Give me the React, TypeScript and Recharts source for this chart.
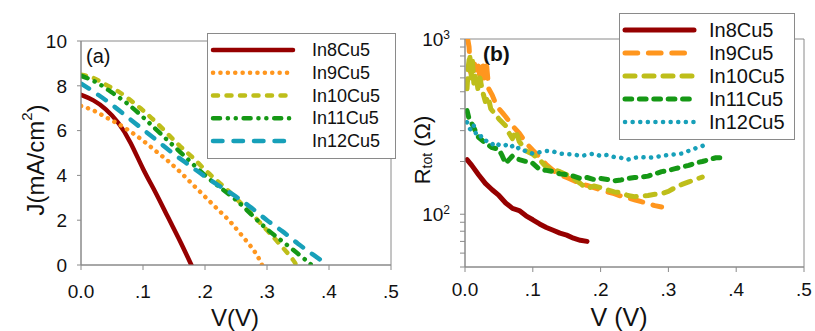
import React from 'react';
import { LineChart, Line, XAxis, YAxis, ReferenceArea } from 'recharts';

const FONT = '"Liberation Sans", Arial, Helvetica, sans-serif';

const seriesNames = ['In8Cu5', 'In9Cu5', 'In10Cu5', 'In11Cu5', 'In12Cu5'];
const seriesColors = ['#960000', '#FF961E', '#BEBE1A', '#159815', '#17A0B9'];

// ---- Panel (a): J-V curves ----
const vA8 = [0, 0.02, 0.04, 0.06, 0.08, 0.1, 0.12, 0.14, 0.16, 0.178];
const jA8 = [7.6, 7.35, 6.95, 6.35, 5.45, 4.3, 3.25, 2.15, 1.05, 0];

const vA9 = [0, 0.02, 0.04, 0.06, 0.08, 0.1, 0.12, 0.14, 0.16, 0.18, 0.2, 0.22, 0.24, 0.26, 0.28, 0.292];
const jA9 = [7.1, 6.9, 6.6, 6.3, 5.95, 5.55, 5.1, 4.65, 4.15, 3.6, 3.05, 2.5, 1.95, 1.3, 0.6, 0];

const vA10 = [0, 0.02, 0.04, 0.06, 0.08, 0.1, 0.12, 0.14, 0.16, 0.18, 0.2, 0.22, 0.24, 0.26, 0.28, 0.3, 0.32, 0.34, 0.347];
const jA10 = [8.5, 8.35, 8.05, 7.75, 7.35, 6.9, 6.4, 5.85, 5.3, 4.8, 4.25, 3.75, 3.25, 2.7, 2.15, 1.55, 0.95, 0.3, 0];

const vA11 = [0, 0.025, 0.05, 0.075, 0.1, 0.125, 0.15, 0.175, 0.2, 0.225, 0.25, 0.275, 0.3, 0.325, 0.35, 0.372];
const jA11 = [8.45, 8.15, 7.7, 7.2, 6.6, 5.95, 5.3, 4.65, 4.0, 3.45, 2.9, 2.25, 1.6, 1.05, 0.5, 0];

const vA12 = [0, 0.025, 0.05, 0.075, 0.1, 0.125, 0.15, 0.175, 0.2, 0.225, 0.25, 0.275, 0.3, 0.325, 0.35, 0.375, 0.398];
const jA12 = [8.1, 7.65, 7.15, 6.6, 6.05, 5.5, 4.95, 4.45, 3.95, 3.5, 3.05, 2.55, 2.0, 1.5, 0.95, 0.45, 0];

// ---- Panel (b): R_tot vs V ----
const vB8 = [0.003, 0.01, 0.02, 0.03, 0.04, 0.05, 0.06, 0.07, 0.08, 0.09, 0.1, 0.11, 0.12, 0.13, 0.14, 0.15, 0.16, 0.17, 0.18];
const rB8 = [205, 190, 168, 150, 138, 128, 116, 108, 105, 98, 93, 88, 84, 81, 78, 76, 73, 71, 70];

const vB9 = [0.004, 0.006, 0.008, 0.011, 0.014, 0.017, 0.02, 0.023, 0.026, 0.029, 0.032, 0.035, 0.04, 0.045, 0.05, 0.055, 0.06, 0.065, 0.07, 0.08, 0.09, 0.1, 0.11, 0.12, 0.13, 0.14, 0.15, 0.16, 0.17, 0.18, 0.19, 0.2, 0.21, 0.22, 0.23, 0.24, 0.25, 0.26, 0.27, 0.28, 0.29];
const rB9 = [1000, 900, 650, 600, 720, 620, 700, 560, 740, 600, 700, 520, 480, 430, 400, 380, 360, 340, 320, 290, 255, 232, 212, 192, 178, 168, 162, 156, 150, 146, 142, 138, 134, 131, 127, 124, 121, 118, 115, 112, 110];

const vB10 = [0.003, 0.005, 0.007, 0.009, 0.011, 0.013, 0.016, 0.019, 0.022, 0.026, 0.03, 0.034, 0.038, 0.045, 0.05, 0.06, 0.065, 0.07, 0.075, 0.08, 0.09, 0.1, 0.11, 0.12, 0.13, 0.14, 0.15, 0.16, 0.17, 0.18, 0.19, 0.2, 0.21, 0.22, 0.23, 0.24, 0.25, 0.26, 0.27, 0.28, 0.29, 0.3, 0.31, 0.32, 0.33, 0.34, 0.35];
const rB10 = [520, 700, 820, 600, 750, 560, 640, 520, 600, 500, 440, 470, 400, 370, 350, 320, 290, 270, 300, 260, 230, 220, 205, 185, 180, 175, 168, 160, 150, 140, 145, 142, 138, 134, 133, 128, 126, 127, 128, 130, 131, 135, 142, 148, 153, 158, 163];

const vB11 = [0.003, 0.006, 0.01, 0.015, 0.02, 0.03, 0.04, 0.05, 0.055, 0.06, 0.065, 0.07, 0.08, 0.09, 0.1, 0.11, 0.12, 0.13, 0.14, 0.15, 0.16, 0.17, 0.18, 0.19, 0.2, 0.21, 0.22, 0.23, 0.24, 0.25, 0.26, 0.27, 0.28, 0.29, 0.3, 0.31, 0.32, 0.33, 0.34, 0.35, 0.36, 0.37, 0.378];
const rB11 = [390, 350, 330, 300, 275, 255, 240, 235, 215, 195, 205, 215, 205, 200, 195, 180, 178, 175, 170, 168, 165, 160, 162, 158, 160, 158, 155, 157, 160, 162, 163, 165, 170, 175, 178, 182, 186, 190, 196, 200, 205, 210, 210];

const vB12 = [0.003, 0.006, 0.01, 0.013, 0.016, 0.02, 0.025, 0.03, 0.035, 0.04, 0.045, 0.05, 0.055, 0.06, 0.065, 0.07, 0.075, 0.08, 0.09, 0.1, 0.11, 0.12, 0.13, 0.14, 0.15, 0.16, 0.17, 0.18, 0.19, 0.2, 0.21, 0.22, 0.23, 0.24, 0.25, 0.26, 0.27, 0.28, 0.29, 0.3, 0.31, 0.32, 0.33, 0.34, 0.35, 0.36];
const rB12 = [335, 310, 300, 320, 290, 275, 280, 265, 255, 250, 258, 248, 245, 248, 240, 245, 235, 240, 228, 222, 226, 230, 228, 222, 220, 220, 215, 218, 222, 215, 218, 212, 210, 205, 210, 212, 210, 212, 215, 218, 220, 222, 230, 238, 245, 255];

// ---- axes ----
const xTicks = [0, 0.1, 0.2, 0.3, 0.4, 0.5];
const xTickLabels = ['0.0', '.1', '.2', '.3', '.4', '.5'];
const jTicks = [0, 2, 4, 6, 8, 10];
const rTicks = [50, 60, 70, 80, 90, 100, 200, 300, 400, 500, 600, 700, 800, 900, 1000];
const rMajor = [100, 1000];
const rMajorExp = ['2', '3'];

const dashA = ['', '0.1 7.3', '5 8.5', '7 7.8 0.1 7.8 0.1 7.8', '9.5 11'];
const dashB = ['', '12.7 10.7', '10 9', '6.7 7.7', '0.1 7.5'];
const widthA = [4.5, 4.5, 4.5, 4.5, 4.5];
const widthB = [5, 5, 5, 5, 4.5];

const zip = (xs: number[], ys: number[]) => xs.map((x, i) => ({ v: x, y: ys[i] }));

const dataA = [zip(vA8, jA8), zip(vA9, jA9), zip(vA10, jA10), zip(vA11, jA11), zip(vA12, jA12)];
const dataB = [zip(vB8, rB8), zip(vB9, rB9), zip(vB10, rB10), zip(vB11, rB11), zip(vB12, rB12)];

const fmtX = (v: number) => {
  const i = xTicks.findIndex((t) => Math.abs(t - v) < 1e-9);
  return i >= 0 ? xTickLabels[i] : '';
};

const AXIS = '#8a8a8a';
const TXT = '#111';

const LogTick = (props: any) => {
  const { x, y, payload } = props;
  const i = rMajor.indexOf(payload.value);
  if (i < 0) return <g />;
  return (
    <text x={x} y={y} dy="0.355em" textAnchor="end" fontSize={19} fill={TXT} fontFamily={FONT}>
      10
      <tspan dy="-0.6em" fontSize={12}>{rMajorExp[i]}</tspan>
    </text>
  );
};

const FixedText = (p: any) => (
  <text
    x={p.tx}
    y={p.ty}
    textAnchor={p.anchor || 'middle'}
    transform={p.rot ? `rotate(-90 ${p.tx} ${p.ty})` : undefined}
    dominantBaseline={p.rot ? 'central' : undefined}
    fontSize={p.fs}
    fontWeight={p.bold ? 'bold' : 'normal'}
    fill={TXT}
    fontFamily={FONT}
  >
    {p.children}
  </text>
);

const LegendBox = (p: any) => (
  <div
    style={{
      position: 'absolute',
      left: p.left,
      top: p.top,
      width: p.width,
      height: p.height,
      border: `1px solid ${AXIS}`,
      background: '#fff',
      boxSizing: 'border-box',
    }}
  >
    <svg width={p.width} height={p.height} style={{ position: 'absolute', left: -1, top: -1 }}>
      {seriesNames.map((n, i) => {
        const y = p.rowTop + i * p.rowGap;
        return (
          <g key={n}>
            <line
              x1={p.x1}
              x2={p.x2}
              y1={y}
              y2={y}
              stroke={seriesColors[i]}
              strokeWidth={p.widths[i]}
              strokeDasharray={p.dashes[i] || undefined}
              strokeLinecap="round"
            />
            <text x={p.tx} y={y} dominantBaseline="central" fontSize={p.fs} fill={TXT} fontFamily={FONT}>
              {n}
            </text>
          </g>
        );
      })}
    </svg>
  </div>
);

export default function App() {
  return (
    <div style={{ position: 'absolute', left: 0, top: 0, width: 815, height: 331, background: '#fff', fontFamily: FONT, overflow: 'hidden' }}>
      <div style={{ position: 'absolute', left: 0, top: 0 }}>
        <LineChart width={410} height={331} margin={{ top: 41, right: 19, bottom: 0, left: 0 }}>
          <XAxis
            type="number"
            dataKey="v"
            domain={[0, 0.5]}
            ticks={xTicks}
            interval={0}
            allowDataOverflow
            tickFormatter={fmtX}
            height={66}
            tickSize={5}
            tickMargin={15}
            stroke={AXIS}
            tick={{ fill: TXT, fontSize: 19, fontFamily: FONT }}
            label={<FixedText tx={235} ty={326} fs={24}>V(V)</FixedText>}
          />
          <YAxis
            type="number"
            dataKey="y"
            domain={[0, 10]}
            ticks={jTicks}
            interval={0}
            allowDataOverflow
            width={81}
            tickSize={4}
            tickMargin={10}
            stroke={AXIS}
            tick={{ fill: TXT, fontSize: 19, fontFamily: FONT }}
            label={
              <FixedText tx={35} ty={160} fs={24} rot>
                J(mA/cm<tspan dy={-9} fontSize={15}>2</tspan><tspan dy={9}>)</tspan>
              </FixedText>
            }
          />
          <ReferenceArea
            x1={0}
            x2={0.5}
            y1={0}
            y2={10}
            fill="#fff"
            fillOpacity={0}
            stroke={AXIS}
            strokeOpacity={1}
            label={<FixedText tx={86} ty={63} fs={20} anchor="start">(a)</FixedText>}
          />
          {dataA.map((d, i) => (
            <Line
              key={seriesNames[i]}
              data={d}
              dataKey="y"
              name={seriesNames[i]}
              type="natural"
              stroke={seriesColors[i]}
              strokeWidth={widthA[i]}
              strokeDasharray={dashA[i] || undefined}
              strokeLinecap="round"
              strokeLinejoin="round"
              dot={false}
              activeDot={false}
              isAnimationActive={false}
            />
          ))}
        </LineChart>
        <LegendBox left={207} top={33} width={189} height={126} rowTop={17} rowGap={22.75} x1={6} x2={86} tx={105} fs={18} dashes={dashA} widths={widthA} />
      </div>
      <div style={{ position: 'absolute', left: 410, top: 0 }}>
        <LineChart width={405} height={331} margin={{ top: 39, right: 11, bottom: 0, left: 0 }}>
          <XAxis
            type="number"
            dataKey="v"
            domain={[0, 0.5]}
            ticks={xTicks}
            interval={0}
            allowDataOverflow
            tickFormatter={fmtX}
            height={64}
            tickSize={5}
            tickMargin={11}
            stroke={AXIS}
            tick={{ fill: TXT, fontSize: 19, fontFamily: FONT }}
            label={<FixedText tx={209} ty={326} fs={25}>V (V)</FixedText>}
          />
          <YAxis
            type="number"
            dataKey="y"
            scale="log"
            domain={[50, 1000]}
            ticks={rTicks}
            interval={0}
            allowDataOverflow
            width={55}
            tickSize={5}
            tickMargin={10}
            stroke={AXIS}
            tick={<LogTick />}
            label={
              <FixedText tx={12} ty={150} fs={22} rot>
                R<tspan dy={5} fontSize={14}>tot</tspan><tspan dy={-5}> (Ω)</tspan>
              </FixedText>
            }
          />
          <ReferenceArea
            x1={0}
            x2={0.5}
            y1={50}
            y2={1000}
            fill="#fff"
            fillOpacity={0}
            stroke={AXIS}
            strokeOpacity={1}
            label={<FixedText tx={73} ty={61} fs={21} anchor="start" bold>(b)</FixedText>}
          />
          {dataB.map((d, i) => (
            <Line
              key={seriesNames[i]}
              data={d}
              dataKey="y"
              name={seriesNames[i]}
              type="linear"
              stroke={seriesColors[i]}
              strokeWidth={widthB[i]}
              strokeDasharray={dashB[i] || undefined}
              strokeLinecap="round"
              strokeLinejoin="round"
              dot={false}
              activeDot={false}
              isAnimationActive={false}
            />
          ))}
        </LineChart>
        <LegendBox left={209} top={13} width={176} height={127} rowTop={17} rowGap={23} x1={6} x2={75} tx={90} fs={20} dashes={dashB} widths={widthB} />
      </div>
    </div>
  );
}
